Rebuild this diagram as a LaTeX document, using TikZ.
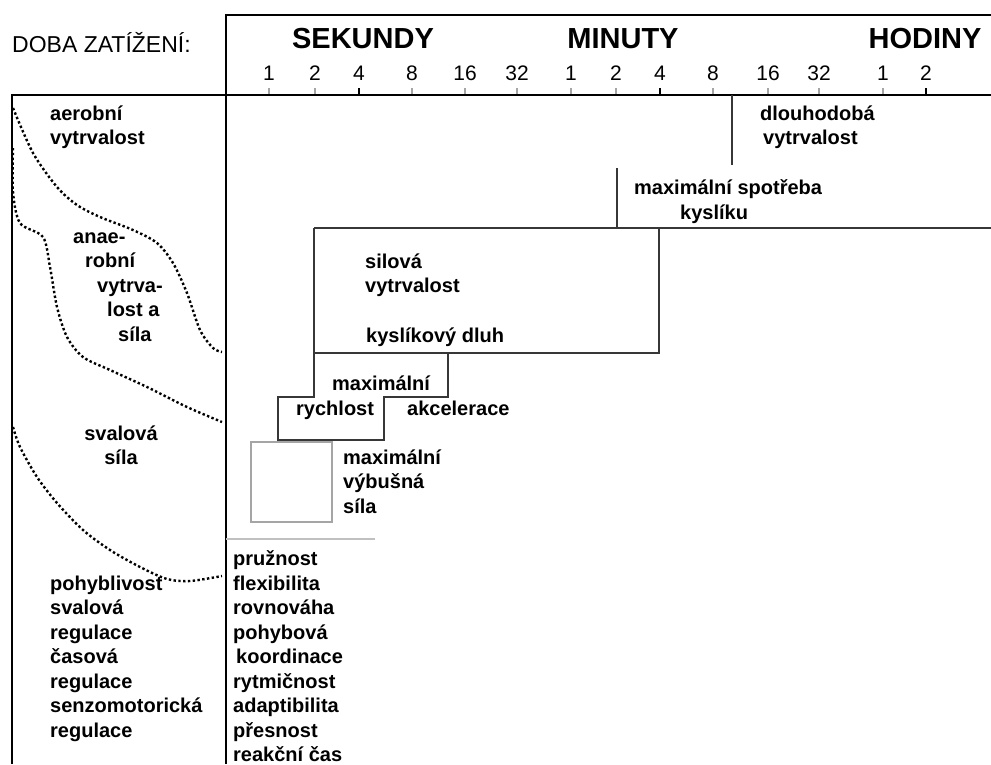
\documentclass[tikz,border=0pt]{standalone}
\usepackage{fontspec}
\setmainfont{Liberation Sans}
\definecolor{lgry}{RGB}{165,165,165}
\definecolor{dgry}{RGB}{55,55,55}
\tikzset{
  % thick frame lines
  FR/.style={line width=2.6pt,color=black},
  % thin box outlines
  BX/.style={line width=1.3pt,color=dgry},
  GBX/.style={line width=1.3pt,color=lgry},
  % dotted borders between zones
  DOT/.style={line width=2.4pt,dash pattern=on 2.4pt off 2.4pt,color=black},
  % labels
  LB/.style={anchor=north west,align=left,inner sep=0pt,
             font=\fontsize{20}{24.5}\selectfont\bfseries},
  HD/.style={anchor=base,inner sep=0pt,font=\fontsize{29}{32}\selectfont\bfseries},
  NUM/.style={anchor=base,inner sep=0pt,font=\fontsize{21}{24}\selectfont},
  TCK/.style={line width=1.3pt,color=#1},
}
\begin{document}
\begin{tikzpicture}[x=1pt,y=-1pt]
  \useasboundingbox (0,0) rectangle (991,764);
  % frame
  \draw[FR] (226,764) -- (226,15) -- (991,15);
  \draw[FR] (12,764) -- (12,95) -- (991,95);
  % time scale
  \node[anchor=base west,inner sep=0pt,font=\fontsize{23}{26}\selectfont]
        at (12,52) (doba) {DOBA ZATÍŽENÍ:};
  \node[HD] at (363,48) (sek) {SEKUNDY};
  \node[HD] at (623,48) (min) {MINUTY};
  \node[HD] at (925,48) (hod) {HODINY};
  \foreach \x/\t/\c in {269/1/lgry,315/2/lgry,359/4/black,412/8/lgry,
                        465/16/lgry,517/32/lgry,571/1/lgry,616/2/lgry,
                        660/4/black,713/8/lgry,768/16/lgry,819/32/lgry,
                        883/1/lgry,926/2/black}{
    \node[NUM] at (\x,80) (n\x) {\t};
    \draw[TCK=\c] (\x,88) -- (\x,94);
  }
  % dotted zone borders
  \draw[DOT] plot[smooth,tension=0.5] coordinates {(13,108) (33,153) (57,187)
        (77,205) (100,217) (133,230) (157,243) (173,263) (187,293) (200,330)
        (213,348) (222,352)};
  \draw[DOT] plot[smooth,tension=0.5] coordinates {(13,148) (13,192) (20,223)
        (43,237) (50,267) (57,307) (67,337) (83,357) (110,370) (147,387)
        (187,407) (222,422)};
  \draw[DOT] plot[smooth,tension=0.5] coordinates {(13,427) (20,447) (37,477)
        (57,503) (83,530) (110,550) (140,567) (167,579) (190,581) (222,576)};
  % boxes
  \draw[BX] (732,95) -- (732,165);
  \draw[BX] (617,168) -- (617,228);
  \draw[BX] (314,228) -- (991,228);
  \draw[BX] (314,228) -- (314,353) -- (659,353) -- (659,228);
  \draw[BX] (278,440) -- (278,397) -- (314,397) -- (314,353) -- (448,353)
        -- (448,397) -- (384,397) -- (384,440) -- cycle;
  \draw[GBX] (251,442) rectangle (332,522);
  \draw[GBX,color=lgry!70] (226,539) -- (375,539);
  % left column
  \node[LB] at (50,105.5) (aer) {aerobní\\vytrvalost};
  \node[LB] at (73,232.5) (anae) {anae-\\\hspace*{12pt}robní\\
        \hspace*{24pt}vytrva-\\\hspace*{34pt}lost a\\\hspace*{45pt}síla};
  \node[LB,anchor=north,align=center] at (121,425.5) (sval) {svalová\\síla};
  \node[LB] at (50,575.5) (pohyb)
        {pohyblivost\\svalová\\regulace\\časová\\regulace\\senzomotorická\\regulace};
  % chart labels
  \node[LB] at (760,105.5) (dlouh) {dlouhodobá\\\hspace*{3pt}vytrvalost};
  \node[LB] at (634,179.5) (spot) {maximální spotřeba\\\hspace*{46pt}kyslíku};
  \node[LB] at (365,253.5) (silv) {silová\\vytrvalost};
  \node[LB] at (366,327.5) (dluh) {kyslíkový dluh};
  \node[LB] at (332,375.5) (maxr) {maximální};
  \node[LB] at (296,400.5) (rych) {rychlost};
  \node[LB] at (407,400.5) (akc) {akcelerace};
  \node[LB] at (343,449.5) (vyb) {maximální\\výbušná\\síla};
  \node[LB] at (233,550.5) (vlast) {pružnost\\flexibilita\\rovnováha\\pohybová\\
        \hspace*{3pt}koordinace\\rytmičnost\\adaptibilita\\přesnost\\reakční čas};
\end{tikzpicture}
\end{document}
